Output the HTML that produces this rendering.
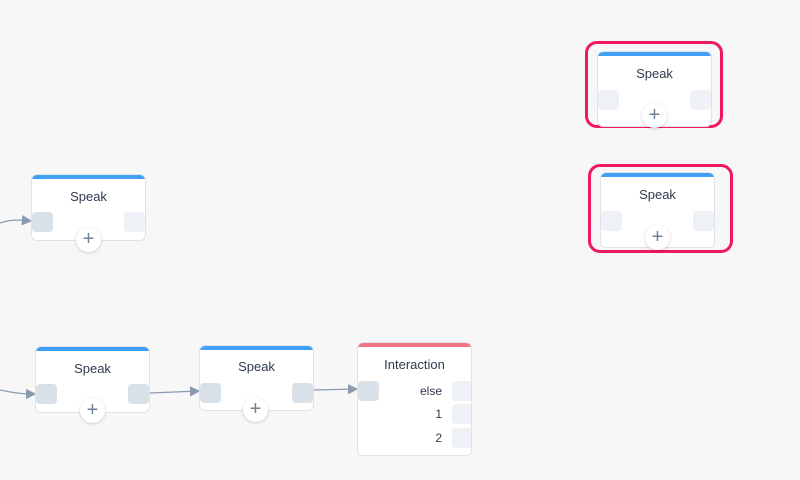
<!DOCTYPE html>
<html><head><style>
body{margin:0;width:800px;height:480px;background:#f7f7f8;position:relative;overflow:hidden;font-family:"Liberation Sans",sans-serif}
.n{position:absolute;background:#fff;border:1px solid #dfe3e8;border-radius:6px;box-sizing:border-box;overflow:hidden}
.n:before{content:"";position:absolute;left:0;right:0;top:0;height:4px;background:#3fa0f5}
.n.r:before{background:#f17587}
.t{position:absolute;left:0;right:0;text-align:center;font-size:13px;color:#2f3b4f}
.p{position:absolute;width:21px;height:20px;border-radius:4px;background:#d8e0e8}
.p.l{background:#eef1f5}
.plus{position:absolute;width:25px;height:25px;border-radius:50%;background:#fff;box-shadow:0 1px 3px rgba(0,0,0,.18);color:#6f7f96;font-size:20px;line-height:24px;text-align:center;font-weight:300}
.o{position:absolute;border:3px solid #f0195e;border-radius:12px;box-sizing:border-box}
.lab{position:absolute;font-size:12px;color:#2f3b4f;text-align:right;width:40px}
</style></head><body>
<svg width="800" height="480" style="position:absolute;left:0;top:0">
<defs><marker id="a" markerWidth="8" markerHeight="8" refX="7" refY="4" orient="auto"><path d="M0,0 L8,4 L0,8z" fill="#8a9bb0"/></marker></defs>
<g stroke="#8a9bb0" stroke-width="1.3" fill="none" marker-end="url(#a)">
<path d="M0,223 C12,219 20,220 31,221"/>
<path d="M0,390 C15,393 22,394 35,394"/>
<path d="M150,393 L199,391"/>
<path d="M314,390 L357,389"/>
</g></svg>

<div class="o" style="left:585px;top:41px;width:138px;height:87px"></div>
<div class="o" style="left:588px;top:164px;width:145px;height:89px"></div>

<div class="n" style="left:31px;top:174px;width:115px;height:67px"><div class="t" style="top:14px">Speak</div><div class="p" style="left:0;top:37px"></div><div class="p l" style="right:0;top:37px"></div></div>
<div class="plus" style="left:76px;top:227px">+</div>

<div class="n" style="left:597px;top:51px;width:115px;height:76px"><div class="t" style="top:14px">Speak</div><div class="p l" style="left:0;top:38px"></div><div class="p l" style="right:0;top:38px"></div></div>
<div class="plus" style="left:642px;top:103px">+</div>

<div class="n" style="left:600px;top:172px;width:115px;height:76px"><div class="t" style="top:14px">Speak</div><div class="p l" style="left:0;top:38px"></div><div class="p l" style="right:0;top:38px"></div></div>
<div class="plus" style="left:645px;top:225px">+</div>

<div class="n" style="left:35px;top:346px;width:115px;height:67px"><div class="t" style="top:14px">Speak</div><div class="p" style="left:0;top:37px"></div><div class="p" style="right:0;top:37px"></div></div>
<div class="plus" style="left:80px;top:398px">+</div>

<div class="n" style="left:199px;top:345px;width:115px;height:66px"><div class="t" style="top:13px">Speak</div><div class="p" style="left:0;top:37px"></div><div class="p" style="right:0;top:37px"></div></div>
<div class="plus" style="left:243px;top:397px">+</div>

<div class="n r" style="left:357px;top:342px;width:115px;height:114px"><div class="t" style="top:14px">Interaction</div><div class="p" style="left:0;top:38px"></div>
<div class="lab" style="left:44px;top:41px">else</div><div class="p l" style="left:94px;top:38px"></div>
<div class="lab" style="left:44px;top:64px">1</div><div class="p l" style="left:94px;top:61px"></div>
<div class="lab" style="left:44px;top:88px">2</div><div class="p l" style="left:94px;top:85px"></div>
</div>
</body></html>
